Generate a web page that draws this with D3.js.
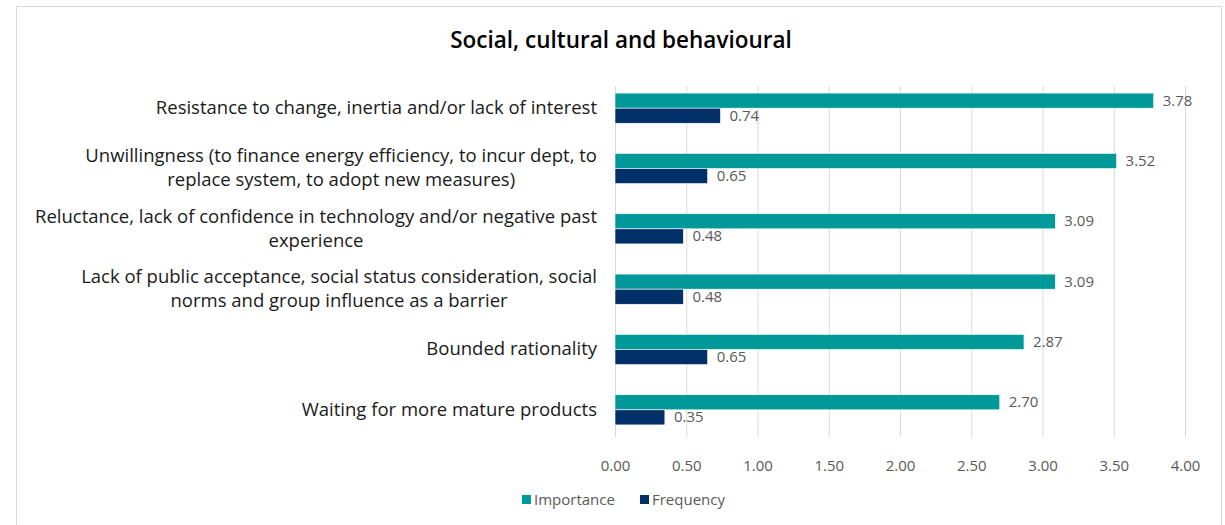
<!DOCTYPE html>
<html><head><meta charset="utf-8">
<script src="https://cdn.jsdelivr.net/npm/d3@7"></script>
<style>
html,body{margin:0;padding:0;background:#fff;}
svg{display:block;font-family:"Open Sans",sans-serif;}
</style></head>
<body>
<svg id="chart" width="1225" height="525"></svg>
<script>
const title = "Social, cultural and behavioural";
const categories = [
  ["Resistance to change, inertia and/or lack of interest"],
  ["Unwillingness (to finance energy efficiency, to incur dept, to", "replace system, to adopt new measures)"],
  ["Reluctance, lack of confidence in technology and/or negative past", "experience"],
  ["Lack of public acceptance, social status consideration, social", "norms and group influence as a barrier"],
  ["Bounded rationality"],
  ["Waiting for more mature products"]
];
const seriesNames = ["Importance", "Frequency"];
const importance = [3.78, 3.52, 3.09, 3.09, 2.87, 2.70];
const frequency = [0.74, 0.65, 0.48, 0.48, 0.65, 0.35];
const xTicks = [0, 0.5, 1, 1.5, 2, 2.5, 3, 3.5, 4];
const colors = ["#009999", "#003067"];

const svg = d3.select("#chart");
svg.append("rect").attr("x", 16.5).attr("y", 6.5).attr("width", 1205).attr("height", 530)
  .attr("fill", "#fff").attr("stroke", "#d9d9d9").attr("stroke-width", 1);

svg.append("text").attr("x", 621).attr("y", 48).attr("text-anchor", "middle")
  .attr("font-size", 22.5).attr("font-weight", "600").attr("fill", "#000").text(title);

const x = d3.scaleLinear().domain([0, 4]).range([615, 1185]);
const y = d3.scaleBand().domain(d3.range(categories.length)).range([78, 440]);
const inner = d3.scaleBand().domain(seriesNames).range([0, y.bandwidth()]).paddingInner(0).paddingOuter(1);

svg.append("g").selectAll("line").data(xTicks).join("line")
  .attr("x1", d => x(d) + 0.5).attr("x2", d => x(d) + 0.5)
  .attr("y1", 86).attr("y2", 437)
  .attr("stroke", "#d9d9d9").attr("stroke-width", 1);

const axis = d3.axisBottom(x).tickValues(xTicks).tickFormat(d3.format(".2f")).tickSize(0).tickPadding(0);
const ag = svg.append("g").attr("transform", "translate(0,471)").call(axis);
ag.select(".domain").remove();
ag.selectAll("text").attr("font-size", 15).attr("fill", "#595959").attr("font-family", "'Open Sans',sans-serif").attr("dy", 0);

const data = categories.map((c, i) => ({i, vals: [importance[i], frequency[i]]}));
const groups = svg.append("g").selectAll("g").data(data).join("g")
  .attr("transform", d => `translate(0,${y(d.i)})`);
groups.selectAll("rect").data(d => d.vals.map((v, k) => ({v, k}))).join("rect")
  .attr("x", x(0)).attr("y", d => inner(seriesNames[d.k]))
  .attr("width", d => x(d.v) - x(0)).attr("height", inner.bandwidth())
  .attr("fill", d => colors[d.k]).attr("stroke", "#ffffff").attr("stroke-width", 0.6);
groups.selectAll("text.val").data(d => d.vals.map((v, k) => ({v, k}))).join("text")
  .attr("class", "val")
  .attr("x", d => x(d.v) + 9).attr("y", d => inner(seriesNames[d.k]) + inner.bandwidth() / 2 + 5)
  .attr("font-size", 15).attr("fill", "#595959").text(d => d3.format(".2f")(d.v));

const labelRight = 597, lh = 24;
groups.each(function(d) {
  const g = d3.select(this);
  const lines = categories[d.i];
  const t = g.append("text").attr("font-size", 18.5).attr("fill", "#1a1a1a").attr("text-anchor", "middle");
  const n = lines.length;
  const cy = y.bandwidth() / 2;
  const tspans = lines.map((ln, k) => t.append("tspan").attr("y", cy + (k - (n - 1) / 2) * lh + 6).text(ln));
  const widths = tspans.map(ts => ts.node().getComputedTextLength());
  const w = d3.max(widths);
  tspans.forEach(ts => ts.attr("x", labelRight - w / 2));
});

const leg = svg.append("g").attr("transform", "translate(522,495)");
seriesNames.forEach((s, k) => {
  const off = k === 0 ? 0 : 118;
  leg.append("rect").attr("x", off).attr("y", 0).attr("width", 9).attr("height", 9).attr("fill", colors[k]);
  leg.append("text").attr("x", off + 12).attr("y", 10).attr("font-size", 15).attr("fill", "#595959").text(s);
});
</script>
</body></html>
